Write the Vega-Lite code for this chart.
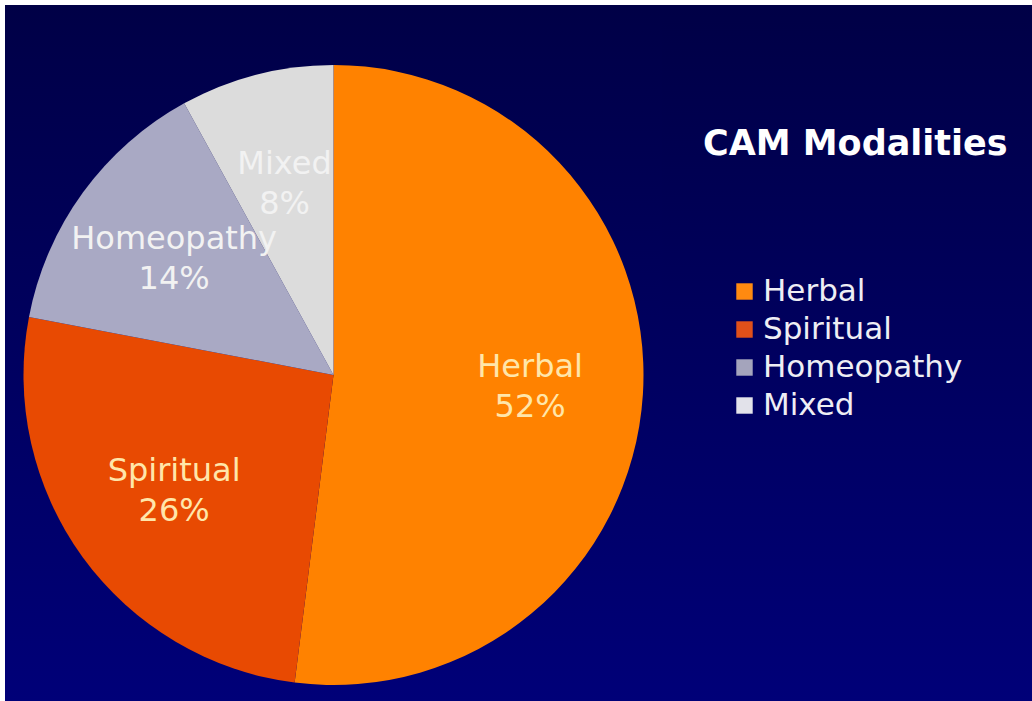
{
  "$schema": "https://vega.github.io/schema/vega-lite/v6.json",
  "background": "white",
  "padding": {"left": 5, "top": 5, "right": 0, "bottom": 0},
  "autosize": {"type": "pad"},
  "config": {"view": {"stroke": null}, "concat": {"spacing": 0}},
  "data": {"values": [
    {"key": "Herbal", "share": 0.52, "rank": 1},
    {"key": "Spiritual", "share": 0.26, "rank": 2},
    {"key": "Homeopathy", "share": 0.14, "rank": 3},
    {"key": "Mixed", "share": 0.08, "rank": 4}
  ]},
  "spacing": 0,
  "resolve": {"scale": {"color": "independent"}, "legend": {"color": "independent"}},
  "hconcat": [
    {
      "spacing": 0,
      "vconcat": [
        {
          "width": 657, "height": 44,
          "mark": {"type": "rect", "color": {"gradient": "linear", "x1": 0, "y1": 0, "x2": 0, "y2": 1, "stops": [{"offset": 0, "color": "#000046"}, {"offset": 1, "color": "#00004a"}]}},
          "encoding": {}
        },
        {
          "width": 657, "height": 652,
          "layer": [
            {
              "mark": {"type": "rect", "color": {"gradient": "linear", "x1": 0, "y1": 0, "x2": 0, "y2": 1, "stops": [{"offset": 0, "color": "#00004a"}, {"offset": 1, "color": "#000078"}]}},
              "encoding": {}
            },
            {
              "mark": {"type": "arc", "outerRadius": 310},
              "encoding": {
                "theta": {"field": "share", "type": "quantitative", "stack": true},
                "order": {"field": "rank", "type": "quantitative"},
                "color": {"field": "key", "type": "nominal", "legend": null,
                  "scale": {"domain": ["Herbal", "Spiritual", "Homeopathy", "Mixed"], "range": ["#FF8200", "#E84A02", "#A9A9C4", "#DCDCDC"]}}
              }
            },
            {
              "mark": {"type": "text", "radius": 197, "dy": -20, "font": "DejaVu Sans", "fontSize": 32},
              "encoding": {
                "theta": {"field": "share", "type": "quantitative", "stack": true},
                "order": {"field": "rank", "type": "quantitative"},
                "text": {"field": "key", "type": "nominal"},
                "color": {"condition": {"test": "datum.key === 'Herbal' || datum.key === 'Spiritual'", "value": "#FFE6AA"}, "value": "#F2F2F2"}
              }
            },
            {
              "mark": {"type": "text", "radius": 197, "dy": 20, "font": "DejaVu Sans", "fontSize": 32},
              "encoding": {
                "theta": {"field": "share", "type": "quantitative", "stack": true},
                "order": {"field": "rank", "type": "quantitative"},
                "text": {"field": "share", "type": "quantitative", "format": ".0%"},
                "color": {"condition": {"test": "datum.key === 'Herbal' || datum.key === 'Spiritual'", "value": "#FFE6AA"}, "value": "#F2F2F2"}
              }
            }
          ]
        }
      ]
    },
    {
      "width": 370, "height": 696,
      "layer": [
        {
          "mark": {"type": "square"},
          "encoding": {
            "color": {"field": "key", "type": "nominal",
              "scale": {"domain": ["Herbal", "Spiritual", "Homeopathy", "Mixed"], "range": ["#FF8A10", "#E0501A", "#A4A4BC", "#E2E2EA"]},
              "legend": {
                "title": "CAM Modalities",
                "orient": "none", "legendX": 41, "legendY": 122,
                "padding": 0,
                "titleFont": "DejaVu Sans", "titleFontSize": 35, "titleFontWeight": "bold", "titleColor": "#FFFFFF",
                "titleLimit": 400, "titlePadding": 114,
                "labelFont": "DejaVu Sans", "labelFontSize": 31, "labelColor": "#EEEEF4", "labelLimit": 400,
                "labelOffset": 3, "symbolOffset": 26,
                "symbolType": "square", "symbolSize": 270, "symbolStrokeWidth": 0, "symbolOpacity": 1,
                "rowPadding": 6
              }
            }
          }
        },
        {
          "mark": {"type": "rect", "color": {"gradient": "linear", "x1": 0, "y1": 0, "x2": 0, "y2": 1, "stops": [{"offset": 0, "color": "#000046"}, {"offset": 1, "color": "#000078"}]}},
          "encoding": {}
        }
      ]
    }
  ]
}
